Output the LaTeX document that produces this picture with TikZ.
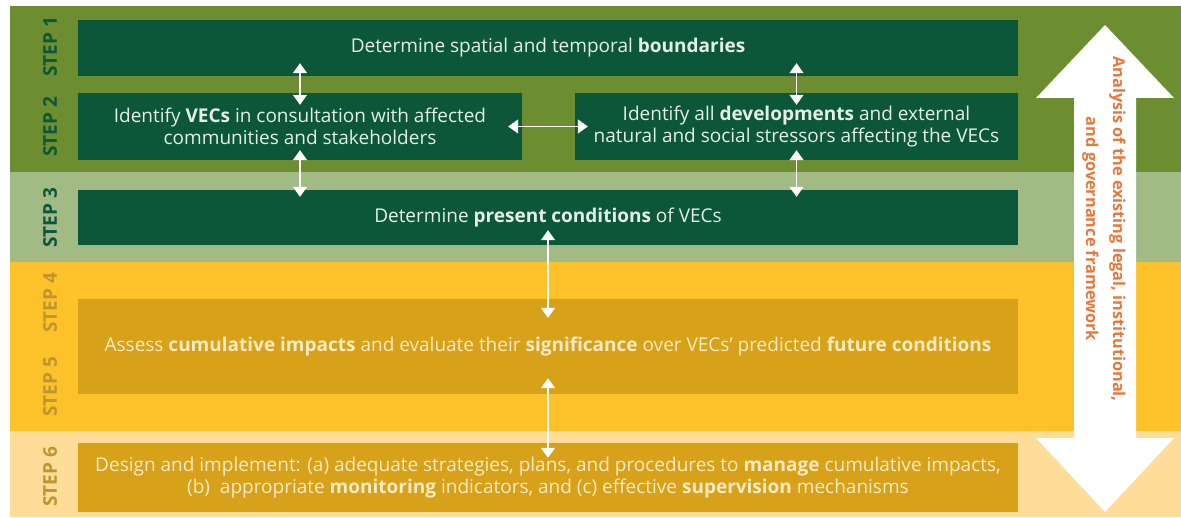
\documentclass[tikz,border=0pt]{standalone}
\usepackage{fontspec}
\setmainfont{Open Sans}
\usetikzlibrary{arrows.meta}
\definecolor{bandgreen}{HTML}{6C8E30}
\definecolor{bandsage}{HTML}{A2BB84}
\definecolor{bandyellow}{HTML}{FDC22A}
\definecolor{bandpale}{HTML}{FDDD98}
\definecolor{boxgreen}{HTML}{0C573A}
\definecolor{boxgold}{HTML}{D7A11A}
\definecolor{textmint}{HTML}{E4F0E6}
\definecolor{textcream}{HTML}{FCEBC4}
\definecolor{stepgold}{HTML}{BF9532}
\definecolor{frameorange}{HTML}{E7773A}
\begin{document}
\begin{tikzpicture}[x=1pt, y=-1pt, line join=round,
	box/.style={inner sep=0pt, align=center, font=\fontsize{19}{22}\selectfont},
	gbox/.style={box, fill=boxgreen, text=textmint},
	ybox/.style={box, fill=boxgold, text=textcream},
	steplabel/.style={rotate=90, font=\fontsize{19}{19}\selectfont\bfseries},
	link/.style={white, line width=1.5pt, {Triangle[width=14pt,length=10pt]}-{Triangle[width=14pt,length=10pt]}}]
	\useasboundingbox (0,0) rectangle (1181,518);
	% bands
	\fill [bandgreen] (10,6) rectangle (1181,172);
	\fill [bandsage] (10,172) rectangle (1181,262);
	\fill [bandyellow] (10,262) rectangle (1181,431);
	\fill [bandpale] (10,431) rectangle (1181,517);
	% big arrow
	\fill [white] (1105,25) -- (1174,98) -- (1136,98) -- (1136,438) -- (1174,438) -- (1105,512)
		-- (1036,438) -- (1074,438) -- (1074,98) -- (1036,98) -- cycle;
	\node [rotate=-90, align=center, text=frameorange, font=\fontsize{16.3}{27}\selectfont\bfseries] (frame) at (1104,229)
		{Analysis of the existing legal, institutional,\\and governance framework};
	% steps
	\node [steplabel, text=boxgreen] (l1) at (50,47) {STEP 1};
	\node [steplabel, text=boxgreen] (l2) at (50,127) {STEP 2};
	\node [steplabel, text=boxgreen] (l3) at (50,218) {STEP 3};
	\node [steplabel, text=stepgold] (l4) at (50,303) {STEP 4};
	\node [steplabel, text=stepgold] (l5) at (50,387) {STEP 5};
	\node [steplabel, text=stepgold] (l6) at (50,477) {STEP 6};
	% boxes
	\node [gbox, minimum width=940pt, minimum height=56pt] (s1) at (548,48)
		{Determine spatial and temporal \textbf{boundaries}};
	\node [gbox, minimum width=444pt, minimum height=67pt] (s2a) at (300,126.5)
		{Identify \textbf{VECs} in consultation with affected\\communities and stakeholders};
	\node [gbox, minimum width=443pt, minimum height=67pt] (s2b) at (796.5,126.5)
		{Identify all \textbf{developments} and external\\natural and social stressors affecting the VECs};
	\node [gbox, minimum width=940pt, minimum height=55pt] (s3) at (548,217.5)
		{Determine \textbf{present conditions} of VECs};
	\node [ybox, minimum width=940pt, minimum height=95pt] (s45) at (548,346.5)
		{Assess \textbf{cumulative impacts} and evaluate their \textbf{significance} over VECs’ predicted \textbf{future conditions}};
	\node [ybox, minimum width=940pt, minimum height=69pt] (s6) at (548,477.5)
		{Design and implement: (a) adequate strategies, plans, and procedures to \textbf{manage} cumulative impacts,\\
		(b)~ appropriate \textbf{monitoring} indicators, and (c) effective \textbf{supervision} mechanisms};
	% links
	\draw [link] ([yshift=13pt]s1.south -| s2a) -- ([yshift=-12pt]s2a.north);
	\draw [link] ([yshift=13pt]s1.south -| s2b) -- ([yshift=-12pt]s2b.north);
	\draw [link] ([xshift=-14pt]s2a.east) -- ([xshift=13pt]s2b.west);
	\draw [link] ([yshift=10pt]s2a.south) -- ([yshift=-7pt]s3.north -| s2a);
	\draw [link] ([yshift=10pt]s2b.south) -- ([yshift=-7pt]s3.north -| s2b);
	\draw [link] ([yshift=15pt]s3.south) -- ([yshift=-19pt]s45.north);
	\draw [link] ([yshift=16pt]s45.south) -- ([yshift=-15pt]s6.north);
\end{tikzpicture}
\end{document}
